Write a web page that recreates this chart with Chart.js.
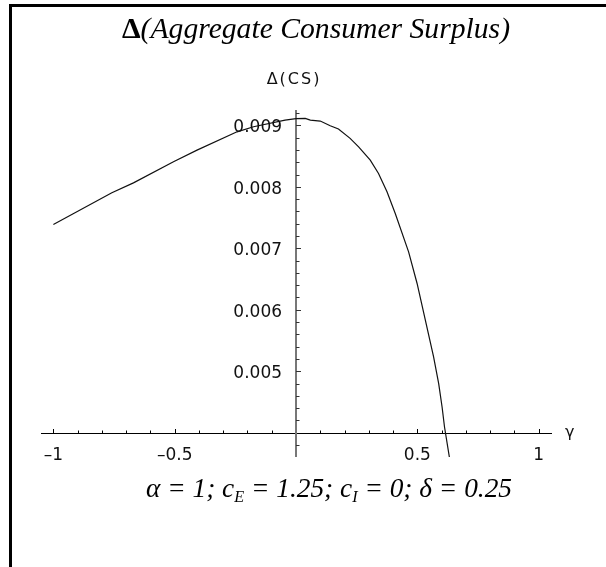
<!DOCTYPE html>
<html><head><meta charset="utf-8">
<script src="https://cdn.jsdelivr.net/npm/chart.js@4.4.1/dist/chart.umd.min.js"></script>
<style>html,body{margin:0;padding:0;background:#fff;overflow:hidden}canvas{display:block}</style>
</head><body>
<canvas id="c" width="606" height="567"></canvas>
<script>
// ---- data ----
const gamma = [-1.000,-0.759,-0.670,-0.505,-0.408,-0.243,-0.175,-0.045,0.000,0.038,0.059,0.100,0.141,0.175,0.223,0.258,0.306,0.340,0.375,0.409,0.464,0.499,0.533,0.567,0.588,0.602,0.612,0.632];
const deltaCS = [0.007388,0.007903,0.008065,0.008407,0.008597,0.008895,0.008977,0.009086,0.009110,0.009114,0.009085,0.009070,0.008993,0.008940,0.008788,0.008651,0.008435,0.008218,0.007919,0.007567,0.006942,0.006428,0.005830,0.005233,0.004800,0.004419,0.004093,0.003605];
const xMajorTicks = [-1,-0.5,0.5,1];
const xTickLabels = ['\u20131','\u20130.5','0.5','1'];
const xMinorTicks = [-0.9,-0.8,-0.7,-0.6,-0.4,-0.3,-0.2,-0.1,0.1,0.2,0.3,0.4,0.6,0.7,0.8,0.9];
const yMajorTicks = [0.005,0.006,0.007,0.008,0.009];
const yTickLabels = ['0.005','0.006','0.007','0.008','0.009'];
const yMinorTicks = [0.0038,0.0042,0.0044,0.0046,0.0048,0.0052,0.0054,0.0056,0.0058,0.0062,0.0064,0.0066,0.0068,0.0072,0.0074,0.0076,0.0078,0.0082,0.0084,0.0086,0.0088,0.0092];
const axesOrigin = [0, 0.004];
const xRange = [-1.051, 1.055];
const yRange = [0.003605, 0.00925];
const titleDelta = '\u0394';
const titleText = '(Aggregate Consumer Surplus)';
const yAxisLabel = '\u0394(CS)';
const xAxisLabel = '\u03B3';

function drawRuns(ctx, runs, cx, baseline, width){
  let total = 0;
  runs.forEach(r => { ctx.font = r.f; r.w = ctx.measureText(r.t).width; total += r.w; });
  const sx = width / total;
  ctx.save();
  ctx.translate(cx - width/2, baseline);
  ctx.scale(sx, 1);
  let x = 0;
  ctx.textBaseline = 'alphabetic';
  ctx.textAlign = 'left';
  runs.forEach(r => { ctx.font = r.f; ctx.fillText(r.t, x, r.dy || 0); x += r.w; });
  ctx.restore();
}

const mmaPlugin = {
  id: 'mmaAxes',
  beforeDatasetsDraw(chart){
    const ctx = chart.ctx, xs = chart.scales.x, ys = chart.scales.y, a = chart.chartArea;
    const x0 = xs.getPixelForValue(axesOrigin[0]);
    const y0 = ys.getPixelForValue(axesOrigin[1]);
    ctx.save();
    // frame (top + left)
    ctx.fillStyle = '#000';
    ctx.fillRect(9, 4, 597, 3);
    ctx.fillRect(9, 4, 3, 563);
    // x axis
    ctx.strokeStyle = '#000';
    ctx.lineWidth = 1;
    ctx.beginPath();
    ctx.moveTo(a.left, Math.round(y0)+0.5); ctx.lineTo(a.right, Math.round(y0)+0.5);
    xMajorTicks.forEach(v => { const p = Math.round(xs.getPixelForValue(v))+0.5; ctx.moveTo(p, Math.round(y0)); ctx.lineTo(p, Math.round(y0)-4); });
    xMinorTicks.forEach(v => { const p = Math.round(xs.getPixelForValue(v))+0.5; ctx.moveTo(p, Math.round(y0)); ctx.lineTo(p, Math.round(y0)-2.5); });
    ctx.stroke();
    // y axis
    ctx.strokeStyle = '#777';
    ctx.lineWidth = 2;
    ctx.beginPath();
    ctx.moveTo(Math.round(x0), a.top); ctx.lineTo(Math.round(x0), a.bottom);
    ctx.stroke();
    ctx.lineWidth = 1;
    ctx.strokeStyle = '#333';
    ctx.beginPath();
    yMajorTicks.forEach(v => { const p = Math.round(ys.getPixelForValue(v))+0.5; ctx.moveTo(x0, p); ctx.lineTo(x0+5, p); });
    yMinorTicks.forEach(v => { const p = Math.round(ys.getPixelForValue(v))+0.5; ctx.moveTo(x0, p); ctx.lineTo(x0+3.5, p); });
    ctx.stroke();
    // tick labels
    ctx.fillStyle = '#111';
    ctx.font = '17px "DejaVu Sans"';
    ctx.textAlign = 'center';
    ctx.textBaseline = 'alphabetic';
    xMajorTicks.forEach((v,i) => ctx.fillText(xTickLabels[i], xs.getPixelForValue(v), y0 + 27));
    ctx.textAlign = 'right';
    yMajorTicks.forEach((v,i) => ctx.fillText(yTickLabels[i], x0 - 14, ys.getPixelForValue(v) + 7));
    // axis labels
    ctx.font = '16px "DejaVu Sans"';
    ctx.textAlign = 'left';
    ctx.fillText(xAxisLabel, a.right + 13, y0 + 4);
    ctx.textAlign = 'center';
    ctx.font = '16px "DejaVu Sans"';
    ctx.letterSpacing = '2px';
    ctx.fillText(yAxisLabel, x0 - 2, a.top - 26);
    ctx.letterSpacing = '0px';
    ctx.fillStyle = '#000';
    // title
    drawRuns(ctx, [
      {t: titleDelta, f: 'bold 29px "Liberation Serif"'},
      {t: titleText, f: 'italic 29px "Liberation Serif"'}
    ], 316, 38, 388);
    // parameters line
    const it = 'italic 27px "Liberation Serif"', sub = 'italic 16px "Liberation Serif"';
    drawRuns(ctx, [
      {t: '\u03B1 = 1; c', f: it},
      {t: 'E', f: sub, dy: 5},
      {t: ' = 1.25; c', f: it},
      {t: 'I', f: sub, dy: 5},
      {t: ' = 0; \u03B4 = 0.25', f: it}
    ], 329, 497, 366);
    ctx.restore();
  }
};

new Chart(document.getElementById('c'), {
  type: 'scatter',
  data: {
    datasets: [{
      data: gamma.map((g,i) => ({x: g, y: deltaCS[i]})),
      showLine: true,
      borderColor: '#111',
      borderWidth: 1.2,
      pointRadius: 0,
      tension: 0,
      fill: false
    }]
  },
  options: {
    responsive: false,
    animation: false,
    devicePixelRatio: 1,
    layout: {padding: {left: 41, right: 54, top: 110, bottom: 110}},
    plugins: {legend: {display: false}, title: {display: false}, tooltip: {enabled: false}},
    scales: {
      x: {type: 'linear', min: xRange[0], max: xRange[1], display: false},
      y: {type: 'linear', min: yRange[0], max: yRange[1], display: false}
    }
  },
  plugins: [mmaPlugin]
});
</script>
</body></html>
